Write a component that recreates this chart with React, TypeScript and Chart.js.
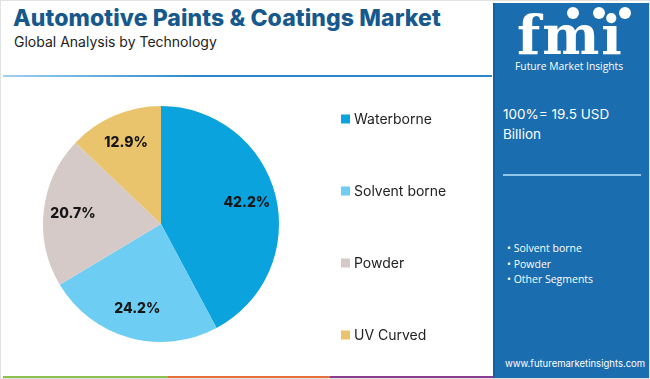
import React, { useEffect, useRef } from "react";
import { Chart, registerables } from "chart.js";

Chart.register(...registerables);

const categories = ["Waterborne", "Solvent borne", "Powder", "UV Curved"];
const shares = [42.2, 24.2, 20.7, 12.9];
const sliceColors = ["#0aa3dd", "#6dcdf2", "#d5cac7", "#e9c46c"];
const panelBullets = ["Solvent borne", "Powder", "Other Segments"];
const totalLabel = ["100%= 19.5 USD", "Billion"];

const labelPlugin = {
  id: "pieLabels",
  afterDatasetsDraw(chart: any) {
    const ctx = chart.ctx;
    const meta = chart.getDatasetMeta(0);
    ctx.save();
    ctx.font = "800 14px 'Inter', 'DejaVu Sans', sans-serif";
    ctx.fillStyle = "#161616";
    ctx.textAlign = "center";
    ctx.textBaseline = "middle";
    meta.data.forEach((arc: any, i: number) => {
      const mid = (arc.startAngle + arc.endAngle) / 2;
      const r = arc.outerRadius * 0.75;
      const x = arc.x + Math.cos(mid) * r;
      const y = arc.y + Math.sin(mid) * r;
      ctx.fillText(shares[i].toFixed(1) + "%", x, y);
    });
    // legend
    ctx.font = "14px 'Inter', 'DejaVu Sans', sans-serif";
    ctx.textAlign = "left";
    categories.forEach((c, i) => {
      const y = 38 + i * 72;
      ctx.fillStyle = sliceColors[i];
      ctx.fillRect(340, y - 4.5, 9, 9);
      ctx.fillStyle = "#222";
      ctx.fillText(c, 353, y + 1);
    });
    ctx.restore();
  },
};

export default function App() {
  const ref = useRef<HTMLCanvasElement>(null);
  useEffect(() => {
    document.body.style.margin = "0";
    const chart = new Chart(ref.current!, {
      type: "pie",
      data: {
        labels: categories,
        datasets: [
          {
            data: shares,
            backgroundColor: sliceColors,
            borderWidth: 0,
          },
        ],
      },
      options: {
        animation: false,
        responsive: false,
        maintainAspectRatio: false,
        layout: { padding: { left: 42, right: 212, top: 25, bottom: 31 } },
        plugins: { legend: { display: false }, tooltip: { enabled: false } },
      },
      plugins: [labelPlugin],
    });
    return () => chart.destroy();
  }, []);

  const font = "'Inter', 'DejaVu Sans', sans-serif";
  return (
    <div
      style={{
        position: "fixed",
        left: 0,
        top: 0,
        width: 650,
        height: 379,
        background: "#fff",
        overflow: "hidden",
        boxSizing: "border-box",
        border: "1px solid #e2e2e2",
        fontFamily: font,
      }}
    >
      <div
        style={{
          position: "absolute",
          left: 12,
          top: 3,
          fontSize: 23,
          fontWeight: 800,
          color: "#17598c",
          whiteSpace: "nowrap",
          letterSpacing: 0.1,
        }}
      >
        Automotive Paints &amp; Coatings Market
      </div>
      <div
        style={{
          position: "absolute",
          left: 13,
          top: 32,
          fontSize: 14,
          color: "#222",
          whiteSpace: "nowrap",
        }}
      >
        Global Analysis by Technology
      </div>
      <div
        style={{
          position: "absolute",
          left: 2,
          top: 74,
          width: 489,
          height: 2,
          background: "linear-gradient(to right, #9fd0f0, #2b88c9 40%, #2b88c9)",
        }}
      />
      <canvas
        ref={ref}
        width={490}
        height={292}
        style={{ position: "absolute", left: 0, top: 80, width: 490, height: 292 }}
      />
      <div style={{ position: "absolute", left: 2, top: 375, width: 165, height: 3, background: "#8dc04f" }} />
      <div style={{ position: "absolute", left: 167, top: 375, width: 162, height: 3, background: "#e8703a" }} />
      <div style={{ position: "absolute", left: 329, top: 375, width: 165, height: 3, background: "#8b3d92" }} />
      <div
        style={{
          position: "absolute",
          left: 492,
          top: 2,
          width: 156,
          height: 377,
          background: "#1a6dae",
          borderLeft: "2px solid #1560a0",
          boxSizing: "border-box",
          color: "#fff",
        }}
      >
        <div style={{ position: "absolute", left: 28, top: 4, display: "flex", gap: 14 }}>
          <div style={{ width: 12, height: 12, borderRadius: 6, background: "#fff", marginLeft: 44 }} />
          <div style={{ width: 12, height: 12, borderRadius: 6, background: "#fff" }} />
          <div style={{ width: 12, height: 12, borderRadius: 6, background: "#fff" }} />
        </div>
        <div
          style={{
            position: "absolute",
            left: 22,
            top: 2,
            fontSize: 54,
            fontWeight: 900,
            fontFamily: "'DejaVu Serif', serif",
            lineHeight: "60px",
            letterSpacing: 2,
            color: "#fff",
          }}
        >
          fmi
        </div>
        <div
          style={{
            position: "absolute",
            left: 20,
            top: 56,
            fontSize: 10.3,
            whiteSpace: "nowrap",
            fontFamily: "'Open Sans', sans-serif",
          }}
        >
          Future Market Insights
        </div>
        <div style={{ position: "absolute", left: 8, top: 101, fontSize: 13.5, lineHeight: "20px" }}>
          {totalLabel.map((t) => (
            <div key={t}>{t}</div>
          ))}
        </div>
        <div style={{ position: "absolute", left: 8, top: 171, width: 138, height: 2, background: "#8fc6ea" }} />
        <div
          style={{
            position: "absolute",
            left: 12,
            top: 238,
            fontSize: 10.5,
            lineHeight: "15.5px",
            fontFamily: "'Open Sans', sans-serif",
          }}
        >
          {panelBullets.map((b) => (
            <div key={b} style={{ whiteSpace: "nowrap" }}>
              • {b}
            </div>
          ))}
        </div>
        <div
          style={{
            position: "absolute",
            left: 10,
            top: 355,
            fontSize: 9.5,
            whiteSpace: "nowrap",
          }}
        >
          www.futuremarketinsights.com
        </div>
      </div>
    </div>
  );
}
